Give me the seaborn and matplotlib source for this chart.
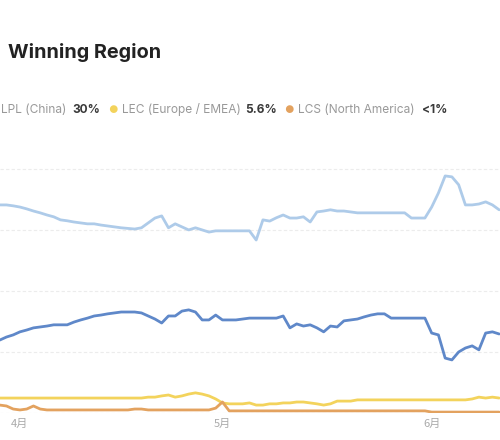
import pandas as pd
import matplotlib.pyplot as plt
import seaborn as sns

# daily values, 29 Mar -> 11 Jun (percent chance)
dates = pd.date_range('2024-03-29', periods=75, freq='D')

lck = [68.2, 68.2, 67.9, 67.5, 66.9, 66.2, 65.6, 64.9, 64.3, 63.3,
       63.0, 62.6, 62.3, 62.0, 62.0, 61.6, 61.3, 61.0, 60.7, 60.5,
       60.3, 60.7, 62.3, 63.9, 64.6, 60.7, 62.0, 61.0, 60.0, 60.7,
       60.0, 59.3, 59.7, 59.7, 59.7, 59.7, 59.7, 59.7, 56.7, 63.3,
       62.9, 64.0, 64.9, 63.9, 63.9, 64.3, 62.6, 65.9, 66.2, 66.6,
       66.2, 66.2, 65.9, 65.6, 65.6, 65.6, 65.6, 65.6, 65.6, 65.6,
       65.6, 63.9, 63.9, 63.9, 67.5, 72.1, 77.7, 77.4, 74.8, 68.2,
       68.2, 68.5, 69.2, 68.2, 66.6]

lpl = [23.9, 24.9, 25.6, 26.6, 27.2, 27.9, 28.2, 28.5, 28.9, 28.9,
       28.9, 29.8, 30.5, 31.1, 31.8, 32.1, 32.5, 32.8, 33.1, 33.1,
       33.1, 32.8, 31.8, 30.8, 29.5, 31.8, 31.8, 33.4, 33.8, 33.1,
       30.5, 30.5, 32.1, 30.5, 30.5, 30.5, 30.8, 31.1, 31.1, 31.1,
       31.1, 31.1, 31.8, 27.9, 29.2, 28.5, 28.9, 27.9, 26.6, 28.5,
       28.2, 30.2, 30.5, 30.8, 31.5, 32.1, 32.5, 32.5, 31.1, 31.1,
       31.1, 31.1, 31.1, 31.1, 26.2, 25.6, 18.0, 17.4, 20.0, 21.3,
       22.0, 20.7, 26.2, 26.6, 25.9]

lec = [4.9, 4.9, 4.9, 4.9, 4.9, 4.9, 4.9, 4.9, 4.9, 4.9,
       4.9, 4.9, 4.9, 4.9, 4.9, 4.9, 4.9, 4.9, 4.9, 4.9,
       4.9, 4.9, 5.2, 5.2, 5.6, 5.9, 5.2, 5.6, 6.2, 6.6,
       6.2, 5.6, 4.6, 3.3, 3.0, 3.0, 3.0, 3.3, 2.6, 2.6,
       3.0, 3.0, 3.3, 3.3, 3.6, 3.6, 3.3, 3.0, 2.6, 3.0,
       3.9, 3.9, 3.9, 4.3, 4.3, 4.3, 4.3, 4.3, 4.3, 4.3,
       4.3, 4.3, 4.3, 4.3, 4.3, 4.3, 4.3, 4.3, 4.3, 4.3,
       4.6, 5.2, 4.9, 5.2, 4.9]

lcs = [2.6, 2.3, 1.3, 1.0, 1.3, 2.3, 1.3, 1.0, 1.0, 1.0,
       1.0, 1.0, 1.0, 1.0, 1.0, 1.0, 1.0, 1.0, 1.0, 1.0,
       1.3, 1.3, 1.0, 1.0, 1.0, 1.0, 1.0, 1.0, 1.0, 1.0,
       1.0, 1.0, 1.6, 3.6, 0.7, 0.7, 0.7, 0.7, 0.7, 0.7,
       0.7, 0.7, 0.7, 0.7, 0.7, 0.7, 0.7, 0.7, 0.7, 0.7,
       0.7, 0.7, 0.7, 0.7, 0.7, 0.7, 0.7, 0.7, 0.7, 0.7,
       0.7, 0.7, 0.7, 0.7, 0.3, 0.3, 0.3, 0.3, 0.3, 0.3,
       0.3, 0.3, 0.3, 0.3, 0.3]

regions = ['LCK', 'LPL', 'LEC', 'LCS']
colors = ['#aecbe9', '#5f88c9', '#f3d35c', '#e3a25f']
month_ticks = ['2024-04-01', '2024-05-01', '2024-06-01']
month_labels = ['4月', '5月', '6月']

df = pd.DataFrame({'date': list(dates) * 4,
                   'chance': lck + lpl + lec + lcs,
                   'region': [r for r in regions for _ in dates]})

sns.set_theme(style='white')
plt.rcParams['font.family'] = ['Inter', 'Noto Sans CJK SC', 'DejaVu Sans']

fig = plt.figure(figsize=(5, 4.4), dpi=100)
ax = fig.add_axes([0, 27 / 440, 1, 263 / 440])

sns.lineplot(data=df, x='date', y='chance', hue='region', hue_order=regions,
             palette=colors, linewidth=2.0, legend=False, ax=ax)

ax.set_ylim(0, 86.2)
ax.set_xlim(pd.Timestamp('2024-03-29 01:00'), pd.Timestamp('2024-06-11 03:00'))
ax.set_yticks([0, 20, 40, 60, 80])
ax.set_yticklabels([])
ax.set_xticks(pd.to_datetime(month_ticks))
ax.set_xticklabels(month_labels, color='#aaaaaa', fontsize=8,
                   family=['Noto Sans CJK SC', 'DejaVu Sans'])
ax.tick_params(length=0, pad=4)
ax.grid(axis='y', color='#ececec', linestyle=(0, (3, 2)), linewidth=0.8)
ax.grid(axis='x', visible=False)
ax.set_xlabel('')
ax.set_ylabel('')
for s in ax.spines.values():
    s.set_visible(False)


def px(x, y):
    return x / 500, 1 - y / 440


fig.text(*px(8, 52), 'Winning Region', fontsize=14.3, fontweight='bold',
         color='#222222', va='center')

# legend row
gray = '#999999'
dark = '#3a3a3a'
fs = 8.6
fig.text(*px(1, 110), 'LPL (China)', fontsize=fs, color=gray, va='center')
fig.text(*px(72, 110), '30%', fontsize=fs, color=dark, fontweight='bold', va='center')
fig.text(*px(113, 110), '●', fontsize=7.5, color=colors[2], va='center', ha='center')
fig.text(*px(122, 110), 'LEC (Europe / EMEA)', fontsize=fs, color=gray, va='center')
fig.text(*px(245, 110), '5.6%', fontsize=fs, color=dark, fontweight='bold', va='center')
fig.text(*px(289, 110), '●', fontsize=7.5, color=colors[3], va='center', ha='center')
fig.text(*px(298, 110), 'LCS (North America)', fontsize=fs, color=gray, va='center')
fig.text(*px(422, 110), '<1%', fontsize=fs, color=dark, fontweight='bold', va='center')

fig.savefig('out.png', dpi=100, facecolor='white')
